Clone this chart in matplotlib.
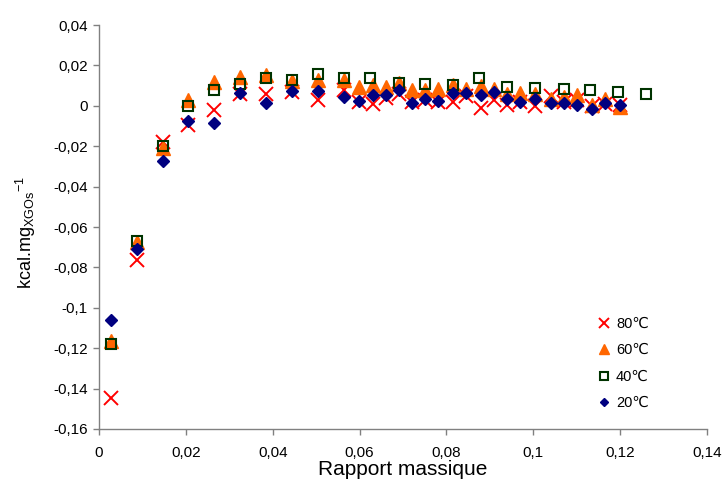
import numpy as np
import matplotlib
matplotlib.use("Agg")
import matplotlib.pyplot as plt
from matplotlib.ticker import FuncFormatter, MultipleLocator

plt.rcParams['font.family'] = ['Liberation Sans', 'DejaVu Sans']
plt.rcParams['mathtext.fontset'] = 'custom'
plt.rcParams['mathtext.rm'] = 'Liberation Sans'

# rapport massique (fine steps for 80/60/20 C)
x_fine = [0.0028, 0.0087, 0.0147, 0.0205, 0.0265, 0.0325, 0.0385, 0.0445, 0.0505, 0.0565,
          0.0598, 0.063, 0.066, 0.069, 0.072, 0.075, 0.078, 0.0815, 0.0845, 0.088,
          0.091, 0.094, 0.097, 0.1005, 0.104, 0.107, 0.110, 0.1135, 0.1165, 0.12]
# coarse steps for 40 C
x_coarse = [0.0028, 0.0087, 0.0147, 0.0205, 0.0265, 0.0325, 0.0385, 0.0445, 0.0505, 0.0565,
            0.0625, 0.069, 0.075, 0.0815, 0.0875, 0.094, 0.1005, 0.107, 0.113, 0.1195, 0.126]

y_80 = [-0.1446, -0.0764, -0.018, -0.0097, -0.0022, 0.006, 0.006, 0.0069, 0.003, 0.0077,
        0.002, 0.0011, 0.004, 0.006, 0.0019, 0.003, 0.002, 0.0019, 0.005, -0.0009,
        0.0027, 0.0002, 0.002, -0.0002, 0.0047, 0.002, 0.0027, 0.0, 0.0011, 0.0002]
y_60 = [-0.1165, -0.0676, -0.0208, 0.0027, 0.0118, 0.0143, 0.0155, 0.0125, 0.013, 0.0127,
        0.0093, 0.0102, 0.0093, 0.0113, 0.0077, 0.0077, 0.0085, 0.0102, 0.0085, 0.0097,
        0.0085, 0.006, 0.0064, 0.006, 0.0036, 0.0044, 0.0056, 0.0006, 0.0036, -0.0004]
y_40 = [-0.118, -0.0668, -0.0201, -0.0001, 0.008, 0.011, 0.0138, 0.013, 0.016, 0.014,
        0.014, 0.0113, 0.011, 0.0102, 0.014, 0.0093, 0.009, 0.0082, 0.008, 0.0069, 0.006]
y_20 = [-0.106, -0.0709, -0.0274, -0.0075, -0.0084, 0.0066, 0.0014, 0.0074, 0.0074, 0.0044,
        0.0024, 0.0056, 0.0056, 0.0077, 0.0016, 0.0032, 0.0024, 0.0064, 0.0064, 0.0056,
        0.0069, 0.0036, 0.0019, 0.0036, 0.0016, 0.0014, 0.0006, -0.0014, 0.0016, 0.0006]

labels = ['80\u2103', '60\u2103', '40\u2103', '20\u2103']

fig = plt.figure(figsize=(7.25, 4.82), dpi=100)
ax = fig.add_axes([0.1366, 0.110, 0.8386, 0.838])

ax.plot(x_fine, y_80, ls='none', marker='x', ms=9.5, mew=1.4, color='#FF0000', label=labels[0])
ax.plot(x_fine, y_60, ls='none', marker='^', ms=9.5, color='#FF6600', mec='#FF6600', label=labels[1])
ax.plot(x_coarse, y_40, ls='none', marker='s', ms=7.5, mfc='none', mec='#003300', mew=1.5, label=labels[2])
ax.plot(x_fine, y_20, ls='none', marker='D', ms=6.5, color='#000080', label=labels[3])

ax.set_xlim(0, 0.14)
ax.set_ylim(-0.16, 0.04)
ax.xaxis.set_major_locator(MultipleLocator(0.02))
ax.yaxis.set_major_locator(MultipleLocator(0.02))

def fmt(v, pos):
    v = round(v, 4)
    if v == 0:
        return '0'
    return ('%g' % v).replace('.', ',')

ax.xaxis.set_major_formatter(FuncFormatter(fmt))
ax.yaxis.set_major_formatter(FuncFormatter(fmt))

for s in ['top', 'right']:
    ax.spines[s].set_visible(False)
for s in ['left', 'bottom']:
    ax.spines[s].set_color('#808080')
    ax.spines[s].set_linewidth(1.0)
ax.tick_params(axis='both', direction='out', length=4, width=1, color='#808080',
               labelsize=11)
ax.tick_params(axis='x', pad=8)
ax.tick_params(axis='y', pad=4)

ax.set_xlabel('Rapport massique', fontsize=15, labelpad=0)
ax.set_ylabel(r'kcal.mg$_{\mathregular{XGOs}}$$^{\mathregular{-1}}$', fontsize=13, labelpad=8)
ax.yaxis.set_label_coords(-0.1, 0.487)

ax.legend(loc='upper left', bbox_to_anchor=(0.80, 0.31), frameon=False, fontsize=10.5,
          markerscale=0.7, handlelength=0.8, handletextpad=0.4, labelspacing=0.85)

fig.savefig('out.png', dpi=100)
